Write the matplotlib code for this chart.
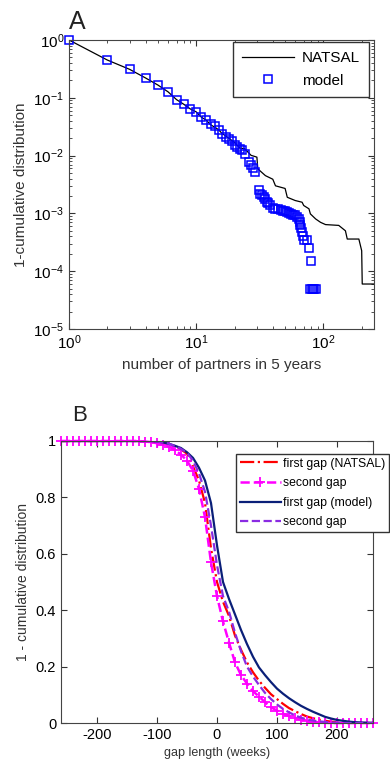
import matplotlib
matplotlib.use("Agg")
import matplotlib.pyplot as plt
import numpy as np

plt.rcParams['font.family'] = ['Liberation Sans', 'DejaVu Sans']
plt.rcParams['mathtext.default'] = 'regular'
plt.rcParams['axes.unicode_minus'] = False

# panel A: number of partners in 5 years
natsal_x = [1, 2, 3, 4, 5, 6, 7, 8, 9, 10, 11, 12, 13, 14, 15, 16, 17, 18,
            20, 22, 24, 27, 30, 30.5, 35, 40, 42, 50, 52, 60, 68, 70, 77, 79,
            87, 95, 104, 132, 149, 154, 190, 200, 202, 250]
natsal_y = [1, 0.45, 0.31, 0.22, 0.166, 0.127, 0.093, 0.077, 0.064, 0.057,
            0.046, 0.041, 0.034, 0.031, 0.028, 0.024, 0.022, 0.02,
            0.017, 0.0135, 0.0132, 0.0101, 0.0094, 0.0059, 0.0045, 0.0039,
            0.0030, 0.0027, 0.0019, 0.00167, 0.00156, 0.00137, 0.0012, 0.00098,
            0.0008, 0.0007, 0.00064, 0.00062, 0.0005, 0.00036, 0.00036,
            0.000226, 6e-5, 6e-5]

model_x = [1, 2, 3, 4, 5, 6, 7, 8, 9, 10, 11, 12, 13, 14, 15, 16, 17, 18, 19,
           20, 21, 22, 23, 24, 26, 27, 28, 29, 31, 32, 33, 34, 35, 36, 37, 38,
           40, 42, 44, 46, 48, 50, 52, 54, 56, 58, 60, 62, 64, 65, 66, 67, 68,
           69, 71, 74, 77, 80, 79, 81, 83, 85, 87]
model_y = [1, 0.45, 0.31, 0.22, 0.166, 0.127, 0.093, 0.077, 0.064, 0.057,
           0.0465, 0.041, 0.0357, 0.0325, 0.0274, 0.024, 0.021, 0.0196, 0.018,
           0.0151, 0.014, 0.0132, 0.0123, 0.0105, 0.0078, 0.0068, 0.006, 0.0052,
           0.00255, 0.0022, 0.0021, 0.0019, 0.0018, 0.0016, 0.0015, 0.0014,
           0.00125, 0.0012, 0.00117, 0.00115, 0.00112, 0.0011, 0.00106, 0.00102,
           0.00098, 0.00095, 0.00092, 0.00085, 0.0008, 0.0007, 0.00062, 0.00056,
           0.00047, 0.0004, 0.00035, 0.00034, 0.00025, 0.00015,
           5e-5, 5e-5, 5e-5, 5e-5, 5e-5]

# panel B: gap length (weeks), 1 - cumulative distribution
gap_weeks = list(range(-260, 261, 10))
ones = [1.0] * 14
first_natsal = ones + [1.0, 0.999, 0.997, 0.993, 0.988, 0.98, 0.97, 0.955, 0.91,
                       0.86, 0.78, 0.62, 0.5, 0.43, 0.38, 0.31, 0.26, 0.215, 0.18,
                       0.15, 0.125, 0.102, 0.085, 0.068, 0.053, 0.042, 0.032,
                       0.023, 0.017, 0.012, 0.008, 0.005, 0.003, 0.002, 0.001,
                       0.0, 0.0, 0.0, 0.0]
second_natsal = ones + [0.998, 0.996, 0.992, 0.987, 0.98, 0.968, 0.952, 0.93,
                        0.895, 0.83, 0.73, 0.57, 0.45, 0.36, 0.285, 0.215, 0.17,
                        0.14, 0.113, 0.094, 0.074, 0.056, 0.044, 0.033, 0.025,
                        0.018, 0.012, 0.007, 0.004, 0.002, 0.001, 0.0, 0.0, 0.0,
                        0.0, 0.0, 0.0, 0.0, 0.0]
first_model = ones + [1.0, 1.0, 0.998, 0.995, 0.99, 0.983, 0.975, 0.96, 0.94,
                      0.905, 0.86, 0.78, 0.63, 0.5, 0.44, 0.385, 0.33, 0.28,
                      0.235, 0.197, 0.17, 0.145, 0.122, 0.104, 0.088, 0.074,
                      0.061, 0.05, 0.04, 0.031, 0.022, 0.016, 0.011, 0.008,
                      0.005, 0.003, 0.002, 0.001, 0.001]
second_model = ones + [1.0, 1.0, 0.998, 0.995, 0.99, 0.982, 0.972, 0.958, 0.93,
                       0.885, 0.82, 0.7, 0.56, 0.45, 0.395, 0.32, 0.255, 0.2,
                       0.165, 0.135, 0.107, 0.085, 0.066, 0.05, 0.038, 0.027,
                       0.019, 0.013, 0.009, 0.006, 0.004, 0.002, 0.001, 0.0,
                       0.0, 0.0, 0.0, 0.0, 0.0]
b_yticks = [0, 0.2, 0.4, 0.6, 0.8, 1]
b_yticklabels = ['0', '0.2', '0.4', '0.6', '0.8', '1']
b_xticks = [-200, -100, 0, 100, 200]

fig = plt.figure(figsize=(3.9, 7.66), dpi=100)

# ---- panel A
axA = fig.add_axes([0.177, 0.5705, 0.782, 0.3773])
axA.loglog(natsal_x, natsal_y, '-', color='black', lw=0.9, label='NATSAL')
axA.loglog(model_x, model_y, 's', color='#0000ff', mfc='none', ms=5.5, mew=1.1,
           ls='none', label='model', clip_on=False)
axA.set_xlim(1, 250)
axA.set_ylim(1e-5, 1)
axA.tick_params(which='both', direction='in', top=True, right=True,
                labelsize=11, color='#333333')
axA.tick_params(which='major', length=4)
axA.tick_params(which='minor', length=2)
axA.set_xlabel('number of partners in 5 years', fontsize=11, color='#333333')
axA.set_ylabel('1-cumulative distribution', fontsize=11, color='#333333')
for s in axA.spines.values():
    s.set_color('#444444')
axA.legend(loc='upper right', bbox_to_anchor=(0.984, 0.993), borderaxespad=0,
           fontsize=11, fancybox=False, edgecolor='#333333', framealpha=1,
           handlelength=3.4, handletextpad=0.5, labelspacing=0.55,
           borderpad=0.6)
fig.text(0.178, 0.962, 'A', fontsize=18, color='#222222')

# ---- panel B
axB = fig.add_axes([0.1564, 0.0561, 0.8, 0.3682])
axB.plot(gap_weeks, first_natsal, '-.', color='red', lw=1.6,
         label='first gap (NATSAL)')
axB.plot(gap_weeks, second_natsal, '--', color='#ff00ff', lw=1.8, marker='+',
         ms=7, mew=1.3, label='second gap', clip_on=False)
axB.plot(gap_weeks, first_model, '-', color='#0a1f78', lw=1.6,
         label='first gap (model)')
axB.plot(gap_weeks, second_model, '--', color='#8a2be2', lw=1.6,
         label='second gap')
axB.set_xlim(-260, 260)
axB.set_ylim(0, 1)
axB.set_xticks(b_xticks)
axB.set_yticks(b_yticks)
axB.set_yticklabels(b_yticklabels)
axB.tick_params(direction='in', top=True, right=True, labelsize=10.5,
                length=4, color='#333333')
axB.set_xlabel('gap length (weeks)', fontsize=9, color='#333333')
axB.set_ylabel('1 - cumulative distribution', fontsize=10, color='#333333')
for s in axB.spines.values():
    s.set_color('#444444')
legB = axB.legend(loc='upper left', bbox_to_anchor=(0.561, 0.954),
                  borderaxespad=0, fontsize=8.8, fancybox=False,
                  edgecolor='#333333', framealpha=1, handlelength=3.4,
                  handletextpad=0.15, labelspacing=0.62, borderpad=0.3)
legB.set_clip_on(False)
fig.text(0.185, 0.45, 'B', fontsize=16, color='#222222')

fig.savefig('out.png', dpi=100)
